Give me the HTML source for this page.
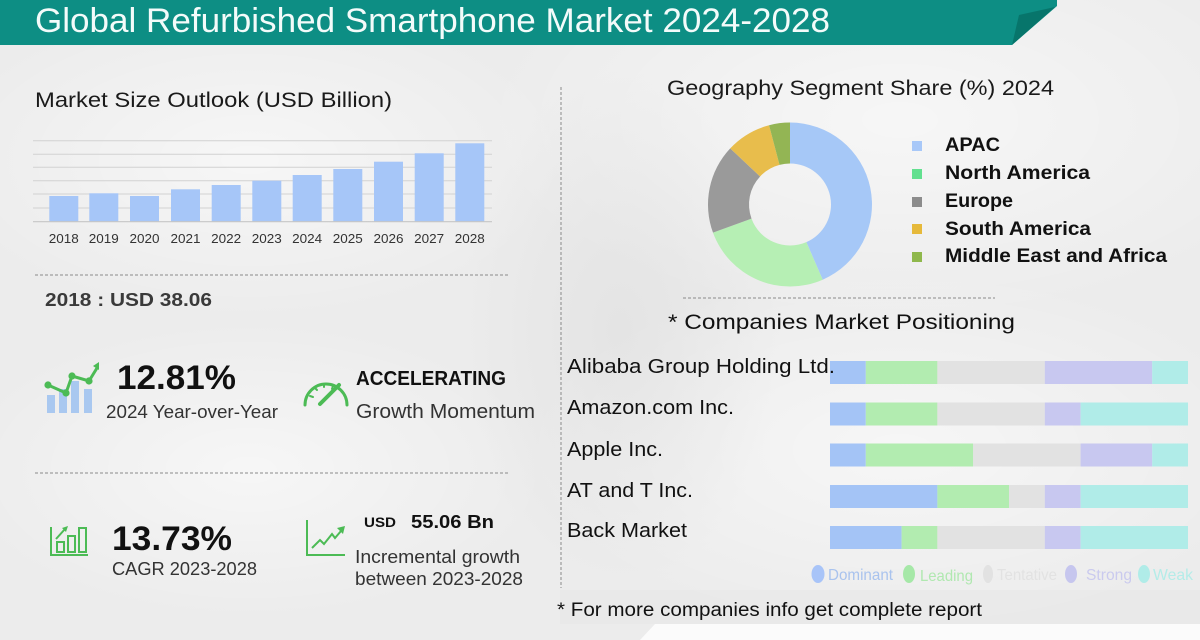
<!DOCTYPE html>
<html>
<head>
<meta charset="utf-8">
<style>
  html,body{margin:0;padding:0;background:#ededed;}
  svg{display:block;}
  text{font-family:"Liberation Sans",sans-serif;}
</style>
</head>
<body>
<svg width="1200" height="640" viewBox="0 0 1200 640" xmlns="http://www.w3.org/2000/svg">
  <defs>
    <radialGradient id="g1" cx="0.5" cy="0.5" r="0.5">
      <stop offset="0" stop-color="#ffffff" stop-opacity="0.55"/>
      <stop offset="1" stop-color="#ffffff" stop-opacity="0"/>
    </radialGradient>
    <radialGradient id="g2" cx="0.5" cy="0.5" r="0.5">
      <stop offset="0" stop-color="#dcdcdc" stop-opacity="0.5"/>
      <stop offset="1" stop-color="#dcdcdc" stop-opacity="0"/>
    </radialGradient>
  </defs>

  <!-- background -->
  <rect x="0" y="0" width="1200" height="640" fill="#ececec"/>
  <ellipse cx="900" cy="120" rx="420" ry="200" fill="url(#g1)"/>
  <ellipse cx="250" cy="160" rx="320" ry="160" fill="url(#g1)"/>
  <ellipse cx="900" cy="450" rx="380" ry="180" fill="url(#g1)"/>
  <ellipse cx="250" cy="470" rx="300" ry="150" fill="url(#g1)"/>
  <ellipse cx="620" cy="330" rx="160" ry="260" fill="url(#g2)"/>
  <rect x="560" y="590" width="640" height="34" fill="#e8e8e8" opacity="0.6"/>
  <polygon points="655,624 1200,624 1200,640 640,640" fill="#fbfbfb"/>

  <!-- header banner -->
  <polygon points="0,0 1057,0 1057,6 1012,45 0,45" fill="#0d8e84"/>
  <polygon points="1019,15 1055,7 1012,45" fill="#07756b"/>
  <text x="35" y="32" font-size="34" fill="#f3fbfa" textLength="795" lengthAdjust="spacingAndGlyphs">Global Refurbished Smartphone Market 2024-2028</text>

  <!-- LEFT: Market size outlook -->
  <text x="35" y="107" font-size="21" fill="#1a1a1a" textLength="357" lengthAdjust="spacingAndGlyphs">Market Size Outlook (USD Billion)</text>

  <g stroke="#d2d2d2" stroke-width="1">
    <line x1="33" y1="140.7" x2="492" y2="140.7"/>
    <line x1="33" y1="154.3" x2="492" y2="154.3"/>
    <line x1="33" y1="167.3" x2="492" y2="167.3"/>
    <line x1="33" y1="180.7" x2="492" y2="180.7"/>
    <line x1="33" y1="194" x2="492" y2="194"/>
    <line x1="33" y1="208" x2="492" y2="208"/>
  </g>
  <g fill="#a6c6f8">
    <rect x="49.3" y="196" width="29" height="25.7"/>
    <rect x="89.3" y="193.3" width="29" height="28.4"/>
    <rect x="130" y="196" width="29" height="25.7"/>
    <rect x="171" y="189.3" width="29" height="32.4"/>
    <rect x="211.7" y="185" width="29" height="36.7"/>
    <rect x="252.3" y="180.7" width="29" height="41"/>
    <rect x="292.7" y="175" width="29" height="46.7"/>
    <rect x="333.3" y="169" width="29" height="52.7"/>
    <rect x="374" y="161.7" width="29" height="60"/>
    <rect x="414.7" y="153.3" width="29" height="68.4"/>
    <rect x="455.3" y="143.3" width="29" height="78.4"/>
  </g>
  <line x1="33" y1="221.7" x2="492" y2="221.7" stroke="#c6c6c6" stroke-width="1.2"/>
  <g font-size="13" fill="#333" text-anchor="middle">
    <text x="63.8" y="243" textLength="30" lengthAdjust="spacingAndGlyphs">2018</text>
    <text x="103.8" y="243" textLength="30" lengthAdjust="spacingAndGlyphs">2019</text>
    <text x="144.5" y="243" textLength="30" lengthAdjust="spacingAndGlyphs">2020</text>
    <text x="185.5" y="243" textLength="30" lengthAdjust="spacingAndGlyphs">2021</text>
    <text x="226.2" y="243" textLength="30" lengthAdjust="spacingAndGlyphs">2022</text>
    <text x="266.8" y="243" textLength="30" lengthAdjust="spacingAndGlyphs">2023</text>
    <text x="307.2" y="243" textLength="30" lengthAdjust="spacingAndGlyphs">2024</text>
    <text x="347.8" y="243" textLength="30" lengthAdjust="spacingAndGlyphs">2025</text>
    <text x="388.5" y="243" textLength="30" lengthAdjust="spacingAndGlyphs">2026</text>
    <text x="429.2" y="243" textLength="30" lengthAdjust="spacingAndGlyphs">2027</text>
    <text x="469.8" y="243" textLength="30" lengthAdjust="spacingAndGlyphs">2028</text>
  </g>

  <line x1="35" y1="275" x2="510" y2="275" stroke="#8a8a8a" stroke-width="1" stroke-dasharray="3,2"/>
  <text x="45" y="306" font-size="18" font-weight="bold" fill="#3a3a3a" textLength="167" lengthAdjust="spacingAndGlyphs">2018 : USD  38.06</text>

  <!-- icon 1: bars + line -->
  <g fill="#a9c8f0">
    <rect x="47" y="395" width="8" height="18"/>
    <rect x="59" y="389" width="8" height="24"/>
    <rect x="71" y="381" width="8" height="32"/>
    <rect x="84" y="389" width="8" height="24"/>
  </g>
  <polyline points="48,385 66,393 72,376 89,381 97,368" fill="none" stroke="#4cbb55" stroke-width="3"/>
  <polygon points="93,366 99,362 99,370" fill="#4cbb55"/>
  <g fill="#4cbb55">
    <circle cx="48" cy="385" r="3.6"/>
    <circle cx="66" cy="393" r="3.6"/>
    <circle cx="72" cy="376" r="3.6"/>
    <circle cx="89" cy="381" r="3.6"/>
  </g>

  <text x="117" y="389" font-size="34" font-weight="bold" fill="#111" textLength="119" lengthAdjust="spacingAndGlyphs">12.81%</text>
  <text x="106" y="418" font-size="18" fill="#333" textLength="172" lengthAdjust="spacingAndGlyphs">2024 Year-over-Year</text>

  <!-- gauge icon -->
  <path d="M305 405 A21 21 0 1 1 347 405" fill="none" stroke="#4cbb55" stroke-width="3" stroke-linecap="round"/>
  <g stroke="#4cbb55" stroke-width="2" stroke-linecap="round">
    <line x1="310" y1="396" x2="313" y2="397"/>
    <line x1="315" y1="388" x2="317" y2="390"/>
    <line x1="324" y1="384" x2="324" y2="387"/>
    <line x1="333" y1="386" x2="332" y2="389"/>
  </g>
  <line x1="320" y1="404" x2="339" y2="385" stroke="#4cbb55" stroke-width="4" stroke-linecap="round"/>

  <text x="356" y="385" font-size="20" font-weight="bold" fill="#111" textLength="150" lengthAdjust="spacingAndGlyphs">ACCELERATING</text>
  <text x="356" y="418" font-size="20" fill="#333" textLength="179" lengthAdjust="spacingAndGlyphs">Growth Momentum</text>

  <line x1="35" y1="473" x2="510" y2="473" stroke="#8a8a8a" stroke-width="1" stroke-dasharray="3,2"/>

  <!-- icon 3 -->
  <g fill="none" stroke="#4cbb55" stroke-width="2">
    <polyline points="51,527 51,555 88,555"/>
    <rect x="57" y="542" width="7" height="10"/>
    <rect x="68" y="536" width="7" height="16"/>
    <rect x="79" y="528" width="7" height="24"/>
    <line x1="56" y1="539" x2="65" y2="529"/>
  </g>
  <polygon points="62,528 68,526 66,532" fill="#4cbb55"/>
  <text x="112" y="550" font-size="34" font-weight="bold" fill="#111" textLength="120" lengthAdjust="spacingAndGlyphs">13.73%</text>
  <text x="112" y="575" font-size="18" fill="#333" textLength="145" lengthAdjust="spacingAndGlyphs">CAGR  2023-2028</text>

  <!-- icon 4 -->
  <g fill="none" stroke="#4cbb55" stroke-width="2">
    <polyline points="307,520 307,555 345,555"/>
    <polyline points="312,548 320,540 324,544 332,534 335,538 341,531"/>
  </g>
  <polygon points="337,528 345,526 343,534" fill="#4cbb55"/>

  <text x="364" y="527" font-size="14" font-weight="bold" fill="#111" textLength="32" lengthAdjust="spacingAndGlyphs">USD</text>
  <text x="411" y="528" font-size="18" font-weight="bold" fill="#111" textLength="83" lengthAdjust="spacingAndGlyphs">55.06 Bn</text>
  <text x="355" y="563" font-size="18" fill="#333" textLength="165" lengthAdjust="spacingAndGlyphs">Incremental growth</text>
  <text x="355" y="585" font-size="18" fill="#333" textLength="168" lengthAdjust="spacingAndGlyphs">between 2023-2028</text>

  <!-- vertical divider -->
  <line x1="561" y1="87" x2="561" y2="588" stroke="#8a8a8a" stroke-width="1" stroke-dasharray="3,2"/>

  <!-- RIGHT: geography donut -->
  <text x="667" y="95" font-size="21" fill="#1a1a1a" textLength="387" lengthAdjust="spacingAndGlyphs">Geography Segment Share (%) 2024</text>

  <path d="M790 122.5 A82 82 0 0 1 822.69 279.70 L806.35 242.10 A41 41 0 0 0 790 163.5 Z" fill="#a6c8f7"/>
  <path d="M822.69 279.70 A82 82 0 0 1 712.99 232.68 L751.50 218.59 A41 41 0 0 0 806.35 242.10 Z" fill="#b6efb4"/>
  <path d="M712.99 232.68 A82 82 0 0 1 730.22 148.37 L760.11 176.44 A41 41 0 0 0 751.50 218.59 Z" fill="#9a9a9a"/>
  <path d="M730.22 148.37 A82 82 0 0 1 769.06 125.23 L779.53 164.87 A41 41 0 0 0 760.11 176.44 Z" fill="#e8bd4c"/>
  <path d="M769.06 125.23 A82 82 0 0 1 790 122.5 L790 163.5 A41 41 0 0 0 779.53 164.87 Z" fill="#93b554"/>

  <rect x="912" y="141" width="10" height="10" fill="#a8c8f8"/>
  <rect x="912" y="169" width="10" height="10" fill="#62e08f"/>
  <rect x="912" y="197" width="10" height="10" fill="#8c8c8c"/>
  <rect x="912" y="224" width="10" height="10" fill="#e6b93a"/>
  <rect x="912" y="252" width="10" height="10" fill="#8fb84c"/>
  <g font-size="19" font-weight="bold" fill="#111">
    <text x="945" y="151" textLength="55" lengthAdjust="spacingAndGlyphs">APAC</text>
    <text x="945" y="179" textLength="145" lengthAdjust="spacingAndGlyphs">North America</text>
    <text x="945" y="207" textLength="68" lengthAdjust="spacingAndGlyphs">Europe</text>
    <text x="945" y="235" textLength="146" lengthAdjust="spacingAndGlyphs">South America</text>
    <text x="945" y="262" textLength="222" lengthAdjust="spacingAndGlyphs">Middle East and Africa</text>
  </g>

  <line x1="683" y1="298" x2="995" y2="298" stroke="#8a8a8a" stroke-width="1" stroke-dasharray="3,2"/>
  <text x="668" y="329" font-size="21" fill="#111" textLength="347" lengthAdjust="spacingAndGlyphs">* Companies Market Positioning</text>

  <!-- company bars -->
  <g>
    <rect x="830" y="361" width="35.8" height="23" fill="#a4c4f6"/>
    <rect x="865.8" y="361" width="71.6" height="23" fill="#b2ecb0"/>
    <rect x="937.4" y="361" width="107.4" height="23" fill="#e2e2e2"/>
    <rect x="1044.8" y="361" width="107.4" height="23" fill="#c8c8f0"/>
    <rect x="1152.2" y="361" width="35.8" height="23" fill="#b0ece8"/>

    <rect x="830" y="402.5" width="35.8" height="23" fill="#a4c4f6"/>
    <rect x="865.8" y="402.5" width="71.6" height="23" fill="#b2ecb0"/>
    <rect x="937.4" y="402.5" width="107.4" height="23" fill="#e2e2e2"/>
    <rect x="1044.8" y="402.5" width="35.8" height="23" fill="#c8c8f0"/>
    <rect x="1080.6" y="402.5" width="107.4" height="23" fill="#b0ece8"/>

    <rect x="830" y="443.5" width="35.8" height="23" fill="#a4c4f6"/>
    <rect x="865.8" y="443.5" width="107.4" height="23" fill="#b2ecb0"/>
    <rect x="973.2" y="443.5" width="107.4" height="23" fill="#e2e2e2"/>
    <rect x="1080.6" y="443.5" width="71.6" height="23" fill="#c8c8f0"/>
    <rect x="1152.2" y="443.5" width="35.8" height="23" fill="#b0ece8"/>

    <rect x="830" y="485" width="107.4" height="23" fill="#a4c4f6"/>
    <rect x="937.4" y="485" width="71.6" height="23" fill="#b2ecb0"/>
    <rect x="1009" y="485" width="35.8" height="23" fill="#e2e2e2"/>
    <rect x="1044.8" y="485" width="35.8" height="23" fill="#c8c8f0"/>
    <rect x="1080.6" y="485" width="107.4" height="23" fill="#b0ece8"/>

    <rect x="830" y="526" width="71.6" height="23" fill="#a4c4f6"/>
    <rect x="901.6" y="526" width="35.8" height="23" fill="#b2ecb0"/>
    <rect x="937.4" y="526" width="107.4" height="23" fill="#e2e2e2"/>
    <rect x="1044.8" y="526" width="35.8" height="23" fill="#c8c8f0"/>
    <rect x="1080.6" y="526" width="107.4" height="23" fill="#b0ece8"/>
  </g>

  <g font-size="20" fill="#111">
    <text x="567" y="373" textLength="268" lengthAdjust="spacingAndGlyphs">Alibaba Group Holding Ltd.</text>
    <text x="567" y="414" textLength="167" lengthAdjust="spacingAndGlyphs">Amazon.com Inc.</text>
    <text x="567" y="456" textLength="96" lengthAdjust="spacingAndGlyphs">Apple Inc.</text>
    <text x="567" y="497" textLength="126" lengthAdjust="spacingAndGlyphs">AT and T Inc.</text>
    <text x="567" y="537" textLength="120" lengthAdjust="spacingAndGlyphs">Back Market</text>
  </g>

  <!-- faded legend -->
  <g font-size="16">
    <ellipse cx="818" cy="574" rx="6.5" ry="9" fill="#a8c4f8"/>
    <text x="828" y="580" fill="#a9c3ee" textLength="65" lengthAdjust="spacingAndGlyphs">Dominant</text>
    <ellipse cx="909" cy="574" rx="6" ry="9" fill="#a6e8a8"/>
    <text x="920" y="581" fill="#b0e8b0" textLength="53" lengthAdjust="spacingAndGlyphs">Leading</text>
    <ellipse cx="988" cy="574" rx="5" ry="9" fill="#e2e2e2"/>
    <text x="997" y="580" fill="#e2e2e2" textLength="60" lengthAdjust="spacingAndGlyphs">Tentative</text>
    <ellipse cx="1071" cy="574" rx="6" ry="9" fill="#c6c6ee"/>
    <text x="1086" y="580" fill="#cacaee" textLength="46" lengthAdjust="spacingAndGlyphs">Strong</text>
    <ellipse cx="1144" cy="574" rx="6" ry="9" fill="#b0ece8"/>
    <text x="1153" y="580" fill="#b4ece8" textLength="40" lengthAdjust="spacingAndGlyphs">Weak</text>
  </g>

  <text x="557" y="616" font-size="19" fill="#111" textLength="425" lengthAdjust="spacingAndGlyphs">* For more companies info get complete report</text>
</svg>
</body>
</html>
